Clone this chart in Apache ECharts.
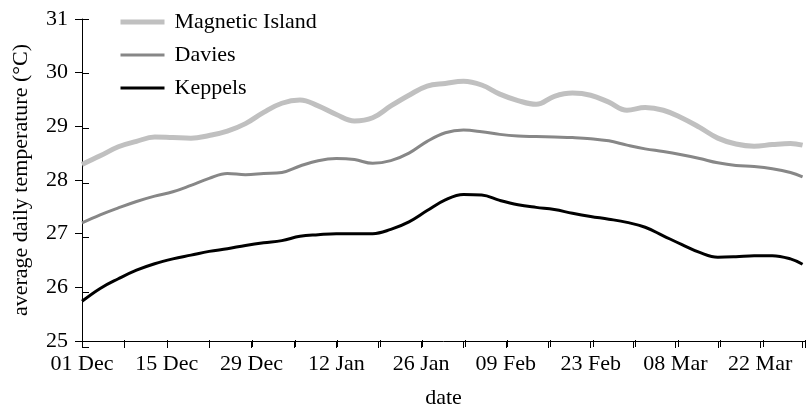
<!DOCTYPE html>
<html>
<head>
<meta charset="utf-8">
<script src="https://cdn.jsdelivr.net/npm/echarts@6/dist/echarts.min.js"></script>
<style>
html,body{margin:0;padding:0;background:#fff;}
#chart{width:808px;height:414px;}
</style>
</head>
<body>
<div id="chart"></div>
<script>
// Sample dates (every 3 days from 01 Dec 2019, plus the last day)
const dates = [
  '2019-12-01','2019-12-04','2019-12-07','2019-12-10','2019-12-13','2019-12-16','2019-12-19',
  '2019-12-22','2019-12-25','2019-12-28','2019-12-31','2020-01-03','2020-01-06','2020-01-09',
  '2020-01-12','2020-01-15','2020-01-18','2020-01-21','2020-01-24','2020-01-27','2020-01-30',
  '2020-02-02','2020-02-05','2020-02-08','2020-02-11','2020-02-14','2020-02-17','2020-02-20',
  '2020-02-23','2020-02-26','2020-02-29','2020-03-03','2020-03-06','2020-03-09','2020-03-12',
  '2020-03-15','2020-03-18','2020-03-21','2020-03-24','2020-03-27','2020-03-29'
];
const magneticIsland = [
  28.29,28.45,28.62,28.72,28.80,28.79,28.78,28.83,28.91,29.05,29.26,29.43,29.49,29.38,
  29.22,29.10,29.16,29.38,29.58,29.75,29.80,29.84,29.77,29.60,29.48,29.41,29.56,29.62,
  29.58,29.45,29.30,29.35,29.30,29.16,28.98,28.78,28.67,28.63,28.66,28.68,28.65
];
const davies = [
  27.20,27.35,27.48,27.60,27.70,27.78,27.90,28.03,28.12,28.10,28.12,28.14,28.26,28.36,
  28.40,28.38,28.31,28.36,28.50,28.72,28.88,28.93,28.90,28.85,28.82,28.81,28.80,28.79,
  28.77,28.73,28.65,28.58,28.53,28.47,28.40,28.32,28.27,28.25,28.21,28.14,28.06
];
const keppels = [
  25.74,25.98,26.16,26.32,26.44,26.53,26.60,26.67,26.72,26.78,26.83,26.87,26.95,26.98,
  27.00,27.00,27.00,27.08,27.22,27.43,27.63,27.73,27.72,27.62,27.54,27.49,27.45,27.38,
  27.32,27.27,27.21,27.12,26.96,26.80,26.65,26.56,26.57,26.59,26.59,26.53,26.43
];
const seriesNames = ['Magnetic Island','Davies','Keppels'];
const seriesColors = ['#c0c0c0','#878787','#000000'];
const seriesWidths = [5, 3, 3];
const xTickLabels = ['01 Dec','15 Dec','29 Dec','12 Jan','26 Jan','09 Feb','23 Feb','08 Mar','22 Mar'];
const yMin = 25, yMax = 31, yInterval = 1;
const xMin = 0, xMax = 119.4, xInterval = 7;

const startMs = Date.UTC(2019, 11, 1);
function dayOffset(s) {
  const p = s.split('-').map(Number);
  return Math.round((Date.UTC(p[0], p[1] - 1, p[2]) - startMs) / 86400000);
}
const xs = dates.map(dayOffset);
function pairs(vals) { return vals.map((v, i) => [xs[i], v]); }
const seriesValues = [magneticIsland, davies, keppels];

const FONT = 'Liberation Serif';
const gridBox = { left: 82, right: 0, top: 19, bottom: 67 };

const chart = echarts.init(document.getElementById('chart'), null, { renderer: 'canvas' });
chart.setOption({
  animation: false,
  backgroundColor: '#ffffff',
  textStyle: { fontFamily: FONT },
  grid: [
    Object.assign({ containLabel: false }, gridBox),
    Object.assign({ containLabel: false }, gridBox)
  ],
  legend: {
    data: seriesNames.map((n, i) => ({
      name: n,
      itemStyle: { opacity: 0 },
      lineStyle: { color: seriesColors[i], width: seriesWidths[i], opacity: 1 }
    })),
    orient: 'vertical',
    left: 118,
    top: 11,
    padding: 0,
    itemWidth: 44,
    itemHeight: 22,
    itemGap: 11,
    textStyle: { fontFamily: FONT, fontSize: 22, color: '#000', padding: [0, 0, 0, 5] }
  },
  xAxis: [
    {
      type: 'value', gridIndex: 0, min: xMin, max: xMax, interval: xInterval,
      name: 'date', nameLocation: 'middle', nameGap: 46,
      nameTextStyle: { fontFamily: FONT, fontSize: 22, color: '#000' },
      axisLine: { show: true, lineStyle: { color: '#000', width: 1 } },
      axisTick: { show: true, inside: false, length: 7, lineStyle: { color: '#000', width: 1 } },
      axisLabel: {
        show: true, margin: 12, fontFamily: FONT, fontSize: 22, color: '#000',
        formatter: function (v) {
          if (Math.abs(v % 14) < 1e-6) { const i = Math.round(v / 14); return xTickLabels[i] || ''; }
          return '';
        }
      },
      splitLine: { show: false }
    },
    {
      type: 'value', gridIndex: 1, min: xMin, max: xMax, interval: xInterval,
      axisLine: { show: false },
      axisTick: { show: true, inside: true, length: 7, lineStyle: { color: '#000', width: 1 } },
      axisLabel: { show: false },
      splitLine: { show: false }
    }
  ],
  yAxis: [
    {
      type: 'value', gridIndex: 0, min: yMin, max: yMax, interval: yInterval,
      name: 'average daily temperature (°C)', nameLocation: 'middle', nameGap: 50,
      nameTextStyle: { fontFamily: FONT, fontSize: 22, color: '#000' },
      axisLine: { show: true, lineStyle: { color: '#000', width: 1 } },
      axisTick: { show: true, inside: false, length: 7, lineStyle: { color: '#000', width: 1 } },
      axisLabel: { show: true, margin: 14, fontFamily: FONT, fontSize: 22, color: '#000' },
      splitLine: { show: false }
    },
    {
      type: 'value', gridIndex: 1, min: yMin, max: yMax, interval: yInterval,
      axisLine: { show: false },
      axisTick: { show: true, inside: true, length: 7, lineStyle: { color: '#000', width: 1 } },
      axisLabel: { show: false },
      splitLine: { show: false }
    }
  ],
  series: seriesNames.map((n, i) => ({
    name: n, type: 'line', xAxisIndex: 0, yAxisIndex: 0,
    data: pairs(seriesValues[i]), smooth: 0.4, symbol: 'none',
    lineStyle: { color: seriesColors[i], width: seriesWidths[i] },
    itemStyle: { color: seriesColors[i] }
  }))
});
</script>
</body>
</html>
